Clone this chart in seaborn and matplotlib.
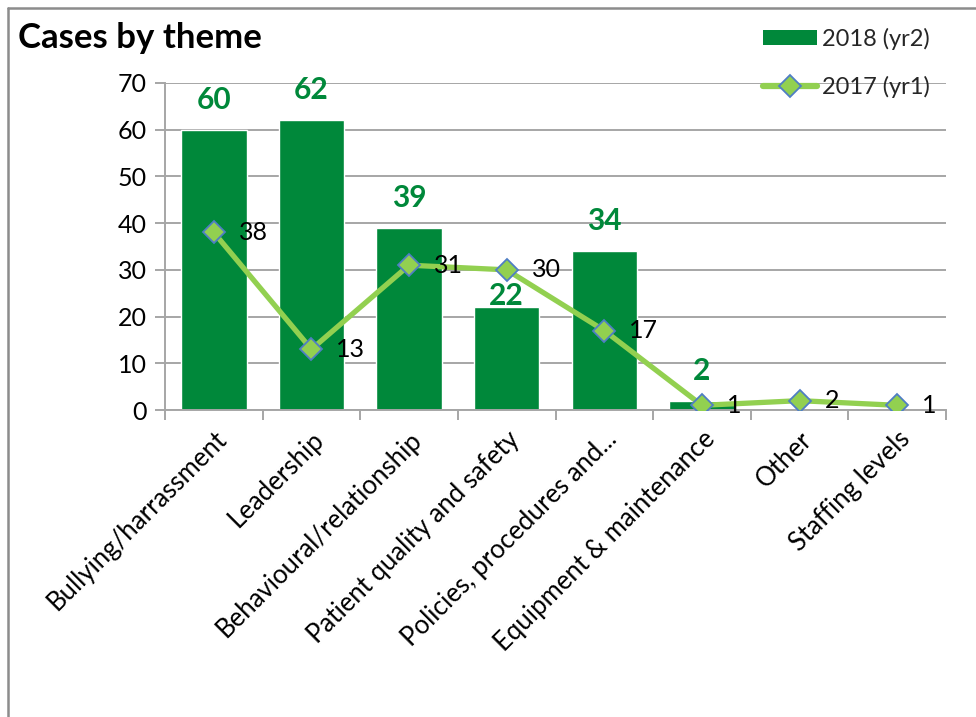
import numpy as np
import matplotlib
matplotlib.use("Agg")
import matplotlib.pyplot as plt
from matplotlib.lines import Line2D
from matplotlib.patches import Patch
from matplotlib.ticker import FixedLocator
import seaborn as sns

# Data
themes = ["Bullying/harrassment", "Leadership", "Behavioural/relationship",
          "Patient quality and safety", "Policies, procedures and...",
          "Equipment & maintenance", "Other", "Staffing levels"]
cases_2018 = [60, 62, 39, 22, 34, 2, 0, 0]
cases_2017 = [38, 13, 31, 30, 17, 1, 2, 1]
y_ticks = [0, 10, 20, 30, 40, 50, 60, 70]

BAR_GREEN = "#00883A"
LINE_GREEN = "#92D050"
MARKER_EDGE = "#4F7EC4"
GRID_GREY = "#A6A6A6"

sns.set_theme(style="white")
plt.rcParams["font.family"] = ["Lato", "DejaVu Sans"]

fig = plt.figure(figsize=(9.76, 7.17), dpi=100)
ax = fig.add_axes([165 / 976, 1 - 410 / 717, (946 - 165) / 976, (410 - 83) / 717])

sns.barplot(x=themes, y=cases_2018, color=BAR_GREEN, saturation=1,
            width=0.67, ax=ax, zorder=2)
sns.pointplot(x=themes, y=cases_2017, color=LINE_GREEN, markers="D",
              linestyles="-", errorbar=None, ax=ax, linewidth=3.8,
              markersize=11, markerfacecolor=LINE_GREEN,
              markeredgecolor=MARKER_EDGE, markeredgewidth=1.3, zorder=4)

ax.set_ylim(0, 70)
ax.set_xlim(-0.5, len(themes) - 0.5)
ax.yaxis.set_major_locator(FixedLocator(y_ticks))
ax.set_yticklabels([str(v) for v in y_ticks], fontsize=18, color="black")
ax.grid(axis="y", color=GRID_GREY, linewidth=1.4, zorder=0)
ax.set_axisbelow(True)
ax.set_xlabel("")
ax.set_ylabel("")

# Category labels at centres, tick marks on the category boundaries
ax.set_xticks(range(len(themes)))
ax.set_xticklabels(themes, rotation=45, ha="right", rotation_mode="anchor",
                   fontsize=18.5, color="black")
ax.tick_params(axis="x", which="major", length=0, pad=12)
ax.xaxis.set_minor_locator(FixedLocator(np.arange(-0.5, len(themes), 1.0)))
ax.tick_params(axis="x", which="minor", length=7, width=1.4, color=GRID_GREY,
               direction="out", bottom=True)
ax.tick_params(axis="y", length=7, width=1.4, color=GRID_GREY,
               direction="out", left=True, pad=6)

for side in ["top", "right"]:
    ax.spines[side].set_visible(False)
for side in ["left", "bottom"]:
    ax.spines[side].set_color(GRID_GREY)
    ax.spines[side].set_linewidth(1.4)

# Value labels for 2018 bars (empty bars carry no label)
label_lift = [16, 16, 16, -3, 16, 16, 16, 16]
for i, (v, lift) in enumerate(zip(cases_2018, label_lift)):
    if v > 0:
        ax.annotate(str(v), (i, v), xytext=(0, lift), textcoords="offset pixels",
                    ha="center", va="bottom", fontsize=21.5, fontweight="bold",
                    color=BAR_GREEN, zorder=5)

# Value labels for the 2017 line
for i, v in enumerate(cases_2017):
    ax.annotate(str(v), (i, v), xytext=(25, 0), textcoords="offset pixels",
                ha="left", va="center", fontsize=18, color="black", zorder=6)

fig.text(18 / 976, 1 - 38 / 717, "Cases by theme", fontsize=25,
         fontweight="bold", ha="left", va="center", color="black")

handles = [Patch(facecolor=BAR_GREEN, edgecolor="none"),
           Line2D([], [], color=LINE_GREEN, linewidth=4.5, marker="D",
                  markersize=11, markerfacecolor=LINE_GREEN,
                  markeredgecolor=MARKER_EDGE, markeredgewidth=1.3)]
fig.legend(handles, ["2018 (yr2)", "2017 (yr1)"], loc="upper left",
           bbox_to_anchor=(751 / 976, 1 - 16 / 717), frameon=False,
           fontsize=17, handlelength=2.3, handleheight=0.6, handletextpad=0.2,
           labelspacing=1.1, borderpad=0)

# Chart frame
frame = dict(color="#8C8C8C", linewidth=1.8, transform=fig.transFigure)
fig.add_artist(Line2D([8 / 976, 8 / 976], [0, 1 - 8 / 717], **frame))
fig.add_artist(Line2D([8 / 976, 1], [1 - 8 / 717, 1 - 8 / 717], **frame))

fig.savefig("out.png", dpi=100)
